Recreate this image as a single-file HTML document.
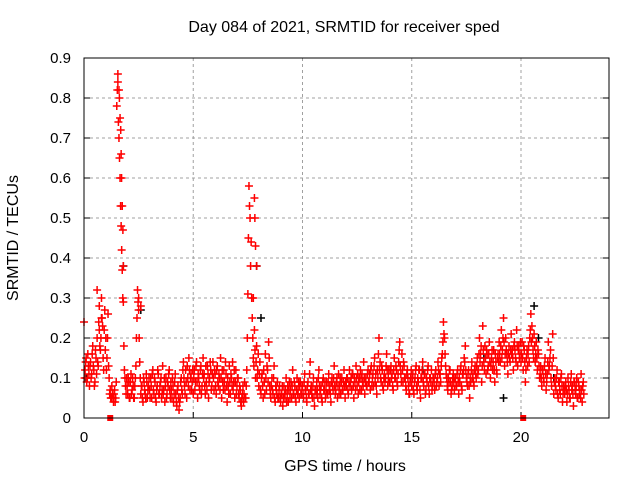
<!DOCTYPE html>
<html><head><meta charset="utf-8"><style>
body{margin:0;background:#fff}
svg text{font-family:"Liberation Sans",sans-serif;font-size:15px;fill:#000}
svg text.big{font-size:16px}
</style></head><body>
<svg id="c" width="640" height="480">
<text class="big" x="344" y="32" text-anchor="middle">Day 084 of 2021, SRMTID for receiver sped</text>
<text class="big" x="345" y="471" text-anchor="middle">GPS time / hours</text>
<text class="big" transform="translate(18,238) rotate(-90)" text-anchor="middle">SRMTID / TECUs</text>
<g id="grid"></g><g id="axes"></g><g id="marks"></g>
<rect x="84" y="58" width="525" height="360" fill="none" stroke="#000" stroke-width="1"/>
</svg>
<script>
const xTicks=[0,5,10,15,20];
const yTicks=[0,0.1,0.2,0.3,0.4,0.5,0.6,0.7,0.8,0.9];
const yTickLabels=["0","0.1","0.2","0.3","0.4","0.5","0.6","0.7","0.8","0.9"];
const redStart=0, redStep=0.05, redStartB=0.025;
const redValues=[
.24,.12,.15,.1,.13,.08,.14,.11,.18,.12,.09,.15,.2,.13,.22,.17,.3,.23,.12,.27,
.2,.15,.26,.1,.07,.05,.06,.04,.07,.05,.78,.86,.7,.6,.48,.37,.29,.12,.08,.1,
.06,.09,.05,.11,.07,.08,.05,.1,.2,.32,.27,.14,.06,.08,.04,.09,.06,.11,.05,.08,
.07,.1,.05,.12,.06,.09,.04,.08,.11,.06,.09,.05,.13,.07,.04,.1,.06,.08,.12,.05,
.07,.1,.04,.09,.06,.03,.08,.02,.05,.1,.06,.14,.08,.12,.05,.1,.15,.07,.11,.09,
.06,.12,.09,.14,.05,.1,.07,.13,.08,.15,.11,.06,.09,.13,.05,.1,.12,.08,.14,.07,
.11,.06,.13,.08,.1,.15,.05,.09,.12,.07,.11,.04,.08,.13,.06,.1,.14,.09,.05,.12,
.08,.1,.05,.07,.03,.06,.04,.09,.05,.12,.31,.58,.5,.44,.25,.15,.22,.1,.18,.12,
.08,.14,.06,.11,.05,.09,.16,.07,.12,.19,.08,.05,.1,.06,.13,.04,.07,.09,.05,.08,
.04,.06,.03,.08,.05,.1,.06,.04,.09,.07,.05,.12,.06,.08,.04,.1,.07,.05,.09,.06,
.08,.05,.11,.07,.04,.09,.06,.14,.08,.05,.1,.03,.07,.09,.05,.12,.06,.08,.04,.1,
.07,.05,.09,.06,.11,.08,.04,.1,.07,.13,.06,.09,.05,.11,.08,.06,.1,.07,.12,.05,
.08,.1,.06,.12,.09,.07,.11,.05,.09,.13,.08,.06,.1,.12,.07,.09,.14,.06,.1,.08,
.12,.09,.07,.13,.1,.08,.15,.11,.06,.1,.2,.14,.09,.12,.07,.11,.1,.16,.08,.12,
.09,.13,.11,.07,.15,.1,.12,.08,.14,.19,.11,.16,.09,.13,.1,.07,.12,.08,.06,.1,
.08,.11,.06,.1,.13,.07,.09,.12,.05,.1,.14,.08,.11,.07,.09,.13,.06,.1,.12,.08,
.1,.07,.12,.09,.14,.08,.11,.13,.16,.24,.2,.13,.1,.07,.09,.12,.06,.08,.11,.07,
.1,.08,.12,.06,.09,.13,.07,.11,.15,.18,.1,.08,.12,.05,.09,.14,.11,.08,.13,.1,
.15,.12,.2,.16,.09,.23,.14,.18,.11,.16,.13,.19,.1,.15,.12,.17,.09,.14,.11,.16,
.19,.14,.22,.17,.25,.13,.2,.16,.11,.18,.14,.21,.17,.12,.19,.15,.22,.13,.18,.16,
.14,.19,.12,.17,.09,.15,.13,.18,.2,.26,.23,.17,.21,.14,.19,.12,.16,.1,.13,.08,
.12,.09,.15,.07,.11,.19,.13,.17,.08,.21,.06,.1,.07,.12,.05,.09,.06,.11,.04,.08,
.06,.09,.04,.1,.07,.05,.11,.08,.03,.09,.06,.1,.05,.08,.07,.11,.04,.09];
const redValuesB=[
.1,.14,.09,.16,.11,.13,.1,.16,.13,.08,.17,.11,.14,.24,.18,.2,.25,.15,.22,.17,
.12,.2,.13,.06,.05,.08,.05,.06,.04,.09,.82,.74,.65,.53,.42,.3,.18,.1,.06,.08,
.1,.05,.09,.06,.1,.05,.08,.13,.25,.29,.2,.1,.08,.05,.1,.07,.05,.09,.07,.1,
.05,.08,.11,.07,.1,.05,.07,.12,.06,.08,.1,.07,.06,.1,.08,.05,.09,.11,.07,.09,
.05,.08,.06,.11,.04,.07,.05,.04,.09,.07,.12,.1,.06,.09,.13,.08,.12,.1,.07,.12,
.1,.07,.13,.09,.11,.08,.12,.06,.11,.1,.08,.13,.07,.11,.09,.14,.07,.11,.1,.12,
.08,.12,.09,.11,.07,.1,.12,.07,.09,.14,.08,.1,.06,.09,.11,.08,.07,.12,.09,.06,
.1,.06,.08,.04,.05,.08,.06,.05,.08,.2,.45,.53,.38,.3,.2,.13,.17,.14,.1,.16,
.11,.07,.1,.08,.12,.06,.1,.13,.09,.15,.06,.08,.07,.1,.05,.08,.06,.05,.07,.05,
.06,.08,.05,.06,.07,.04,.08,.07,.05,.09,.08,.06,.09,.05,.07,.06,.09,.08,.06,.08,
.06,.09,.07,.05,.08,.06,.11,.07,.06,.08,.05,.07,.06,.07,.1,.08,.07,.05,.09,.07,
.09,.07,.06,.09,.07,.06,.09,.08,.1,.08,.07,.1,.08,.06,.1,.09,.07,.09,.08,.09,
.1,.07,.09,.08,.1,.11,.08,.1,.07,.1,.11,.09,.07,.1,.11,.08,.1,.09,.08,.11,
.09,.11,.12,.08,.11,.13,.09,.08,.12,.16,.12,.1,.13,.08,.1,.09,.13,.12,.1,.09,
.12,.1,.08,.12,.1,.13,.09,.11,.17,.13,.09,.12,.14,.1,.08,.11,.1,.06,.09,.12,
.1,.07,.09,.12,.08,.1,.12,.07,.1,.12,.09,.11,.06,.1,.12,.08,.1,.09,.07,.1,
.09,.11,.08,.1,.12,.11,.09,.15,.19,.21,.16,.11,.08,.1,.12,.09,.07,.1,.09,.1,
.08,.11,.09,.1,.12,.08,.11,.12,.14,.12,.09,.11,.08,.1,.12,.1,.09,.12,.11,.13,
.11,.16,.14,.18,.13,.17,.12,.15,.17,.12,.16,.14,.13,.17,.14,.12,.16,.12,.15,.14,
.16,.18,.15,.2,.19,.16,.17,.14,.16,.15,.17,.16,.15,.18,.17,.14,.18,.17,.15,.19,
.16,.15,.18,.14,.12,.17,.16,.14,.22,.19,.2,.15,.18,.16,.15,.17,.13,.11,.1,.12,
.1,.13,.11,.09,.14,.12,.15,.1,.13,.15,.09,.08,.1,.06,.09,.07,.1,.08,.06,.07,
.08,.07,.06,.08,.05,.09,.07,.06,.09,.07,.08,.05,.09,.06,.05,.07,.08,.06];
const spikeTimes=[1.55,1.6,1.62,1.65,1.68,1.7,1.72,1.75,1.78,1.8,7.75,7.8,7.82,7.85,7.9,0.6,0.7,0.8,2.5,2.6];
const spikeValues=[0.84,0.82,0.8,0.75,0.72,0.66,0.6,0.53,0.47,0.38,0.3,0.55,0.5,0.43,0.38,0.32,0.28,0.25,0.3,0.28];
const blackTimes=[0.1,1.8,2.6,7.9,8.1,12,15.5,18.3,19.2,20.6,20.8,21.5,22.5];
const blackValues=[0.1,0.38,0.27,0.38,0.25,0.08,0.12,0.15,0.05,0.28,0.2,0.1,0.07];
const zeroTimes=[1.2,20.1];
const X=t=>84+t*21.85, Y=v=>418-v*400;
const NS="http://www.w3.org/2000/svg";
const grid=document.getElementById('grid'),axes=document.getElementById('axes'),marks=document.getElementById('marks');
function mk(tag,attrs,parent){const e=document.createElementNS(NS,tag);for(const k in attrs)e.setAttribute(k,attrs[k]);parent.appendChild(e);return e;}
xTicks.forEach(t=>{
 if(t>0){const g=mk('line',{x1:X(t),x2:X(t),y1:58,y2:418,stroke:'#a0a0a0','stroke-dasharray':'3,3'},grid);
 
 }
 const tk=mk('line',{x1:X(t),x2:X(t),y1:418,y2:412,stroke:'#000'},axes);
 
 
 const tx=mk('text',{x:X(t),y:442,'text-anchor':'middle'},axes);tx.textContent=t;
 
 
});
yTicks.forEach((v,i)=>{
 if(v>0&&v<0.9){const g=mk('line',{x1:84,x2:609,y1:Y(v),y2:Y(v),stroke:'#a0a0a0','stroke-dasharray':'3,3'},grid);
 
 }
 const tk=mk('line',{x1:84,x2:90,y1:Y(v),y2:Y(v),stroke:'#000'},axes);
 
 
 const tk2=mk('line',{x1:603,x2:609,y1:Y(v),y2:Y(v),stroke:'#000'},axes);
 
 
 const tx=mk('text',{x:71,y:Y(v)+5,'text-anchor':'end'},axes);tx.textContent=yTickLabels[i];
 
 
});
function plus(t,v,col,name){
 const x=X(t),y=Y(v);
 const p=mk('path',{d:`M${x-4},${y}H${x+4}M${x},${y-4}V${y+4}`,stroke:col,'stroke-width':1.5,fill:'none'},marks);
 
 
}
blackTimes.forEach((t,i)=>plus(t,blackValues[i],'#000','black-point'));
redValues.forEach((v,i)=>plus(redStart+i*redStep,v,'#f00','red-point'));
redValuesB.forEach((v,i)=>plus(redStartB+i*redStep,v,'#f00','red-point-b'));
spikeTimes.forEach((t,i)=>plus(t,spikeValues[i],'#f00','red-spike-point'));
zeroTimes.forEach(t=>{
 const r=mk('rect',{x:X(t)-3,y:415,width:6,height:6,fill:'#f00'},marks);
 
 
});
</script>
</body></html>
